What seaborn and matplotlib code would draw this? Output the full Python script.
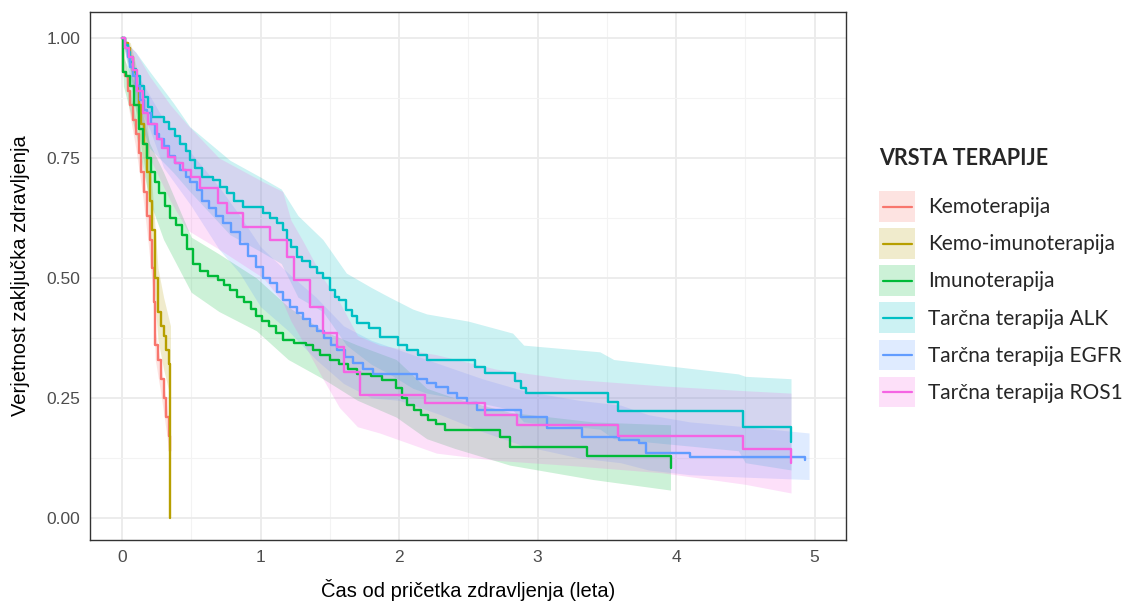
import numpy as np
import pandas as pd
import matplotlib
matplotlib.use("Agg")
import matplotlib.pyplot as plt
import seaborn as sns
from matplotlib.patches import Rectangle
from matplotlib.lines import Line2D
from matplotlib.legend_handler import HandlerBase

# ---------------------------------------------------------------------------
# Kaplan-Meier estimates per therapy group (step curves) and their
# pointwise confidence bands (given on their own time grids)
# ---------------------------------------------------------------------------
therapies = ["Kemoterapija", "Kemo-imunoterapija", "Imunoterapija",
             "Tarčna terapija ALK", "Tarčna terapija EGFR", "Tarčna terapija ROS1"]
colors = ["#F8766D", "#B79F00", "#00BA38", "#00BFC4", "#619CFF", "#F564E3"]

# Kemoterapija
kemo_t = [0, 0.005, 0.02, 0.04, 0.06, 0.08, 0.10, 0.12, 0.14, 0.16, 0.18, 0.20,
          0.22, 0.23, 0.24, 0.26, 0.28, 0.30, 0.32, 0.34, 0.35]
kemo_s = [1.0, 0.93, 0.92, 0.89, 0.86, 0.83, 0.80, 0.76, 0.72, 0.68, 0.63, 0.58,
          0.52, 0.45, 0.36, 0.33, 0.29, 0.25, 0.21, 0.17, 0.14]
kemo_band_t = [0, 0.05, 0.10, 0.15, 0.19, 0.22, 0.24, 0.28, 0.32, 0.35]
kemo_lo = [1.0, 0.85, 0.77, 0.67, 0.57, 0.48, 0.33, 0.26, 0.18, 0.11]
kemo_hi = [1.0, 0.90, 0.83, 0.73, 0.63, 0.56, 0.39, 0.32, 0.24, 0.17]

# Kemo-imunoterapija
kimu_t = [0, 0.02, 0.04, 0.06, 0.08, 0.10, 0.12, 0.14, 0.16, 0.18, 0.20, 0.22,
          0.24, 0.26, 0.28, 0.30, 0.32, 0.34, 0.35]
kimu_s = [1.0, 0.99, 0.98, 0.96, 0.93, 0.90, 0.86, 0.82, 0.78, 0.72, 0.66, 0.60,
          0.50, 0.43, 0.40, 0.38, 0.35, 0.32, 0.0]
kimu_band_t = [0, 0.06, 0.12, 0.17, 0.22, 0.26, 0.30, 0.35]
kimu_lo = [1.0, 0.93, 0.80, 0.72, 0.52, 0.37, 0.31, 0.25]
kimu_hi = [1.0, 0.99, 0.92, 0.87, 0.68, 0.52, 0.46, 0.40]

# Imunoterapija
imu_t = [0, 0.005, 0.03, 0.06, 0.09, 0.12, 0.15, 0.18, 0.21, 0.24, 0.27, 0.31,
         0.35, 0.39, 0.43, 0.47, 0.51, 0.56, 0.62, 0.69, 0.74, 0.78, 0.83, 0.88,
         0.93, 0.97, 1.01, 1.06, 1.11, 1.16, 1.24, 1.33, 1.38, 1.43, 1.50, 1.57,
         1.63, 1.70, 1.80, 1.88, 1.98, 2.02, 2.06, 2.11, 2.16, 2.21, 2.27, 2.33,
         2.73, 2.80, 3.36, 3.96]
imu_s = [1.0, 0.93, 0.92, 0.90, 0.86, 0.81, 0.78, 0.75, 0.72, 0.70, 0.677, 0.65,
         0.625, 0.61, 0.59, 0.56, 0.53, 0.515, 0.505, 0.495, 0.485, 0.475, 0.46,
         0.45, 0.435, 0.42, 0.41, 0.40, 0.385, 0.37, 0.365, 0.36, 0.35, 0.34,
         0.33, 0.32, 0.31, 0.30, 0.295, 0.287, 0.27, 0.25, 0.235, 0.225, 0.215,
         0.205, 0.195, 0.183, 0.169, 0.148, 0.129, 0.105]
imu_band_t = [0, 0.01, 0.1, 0.2, 0.3, 0.5, 0.7, 0.97, 1.2, 1.45, 1.7, 1.98,
              2.2, 2.4, 2.8, 3.4, 3.96]
imu_lo = [1.0, 0.90, 0.80, 0.66, 0.58, 0.47, 0.43, 0.39, 0.33, 0.29, 0.245,
          0.21, 0.165, 0.145, 0.11, 0.08, 0.058]
imu_hi = [1.0, 0.96, 0.90, 0.78, 0.72, 0.585, 0.55, 0.50, 0.44, 0.39, 0.36,
          0.33, 0.27, 0.25, 0.22, 0.20, 0.194]

# Tarčna terapija ALK
alk_t = [0, 0.02, 0.04, 0.06, 0.08, 0.10, 0.13, 0.16, 0.19, 0.22, 0.30, 0.34,
         0.38, 0.42, 0.46, 0.49, 0.53, 0.58, 0.66, 0.71, 0.76, 0.81, 0.87, 1.02,
         1.07, 1.12, 1.16, 1.19, 1.22, 1.26, 1.30, 1.36, 1.41, 1.45, 1.50, 1.54,
         1.57, 1.62, 1.66, 1.70, 1.78, 1.86, 1.99, 2.06, 2.14, 2.20, 2.55, 2.62,
         2.84, 2.88, 2.92, 3.51, 3.58, 4.48, 4.83]
alk_s = [1.0, 0.985, 0.97, 0.95, 0.935, 0.92, 0.90, 0.877, 0.856, 0.835, 0.825,
         0.81, 0.795, 0.78, 0.765, 0.746, 0.73, 0.71, 0.704, 0.69, 0.677, 0.66,
         0.648, 0.635, 0.625, 0.615, 0.60, 0.58, 0.565, 0.544, 0.535, 0.523, 0.51,
         0.50, 0.475, 0.46, 0.454, 0.433, 0.42, 0.406, 0.395, 0.377, 0.36, 0.35,
         0.34, 0.33, 0.315, 0.302, 0.285, 0.27, 0.26, 0.242, 0.223, 0.19, 0.158]
alk_band_t = [0, 0.1, 0.2, 0.37, 0.49, 0.78, 1.0, 1.15, 1.27, 1.45, 1.62, 1.8,
              1.93, 2.1, 2.2, 2.5, 2.82, 2.9, 3.45, 3.55, 4.45, 4.5, 4.83]
alk_lo = [1.0, 0.85, 0.77, 0.72, 0.68, 0.59, 0.555, 0.53, 0.46, 0.43, 0.36,
          0.32, 0.30, 0.27, 0.26, 0.245, 0.225, 0.20, 0.185, 0.165, 0.14, 0.115,
          0.10]
alk_hi = [1.0, 0.97, 0.93, 0.865, 0.815, 0.745, 0.71, 0.685, 0.63, 0.58, 0.51,
          0.48, 0.46, 0.435, 0.425, 0.41, 0.385, 0.36, 0.346, 0.33, 0.30, 0.295,
          0.29]

# Tarčna terapija EGFR
egfr_t = [0, 0.02, 0.04, 0.06, 0.08, 0.10, 0.13, 0.16, 0.18, 0.21, 0.24, 0.27,
          0.30, 0.34, 0.38, 0.42, 0.46, 0.49, 0.54, 0.58, 0.63, 0.68, 0.73, 0.79,
          0.85, 0.91, 0.97, 1.02, 1.07, 1.12, 1.16, 1.21, 1.26, 1.31, 1.36, 1.41,
          1.46, 1.51, 1.55, 1.61, 1.67, 1.74, 1.81, 2.13, 2.20, 2.27, 2.35, 2.42,
          2.49, 2.56, 2.88, 3.07, 3.32, 3.59, 3.73, 3.78, 4.10, 4.93]
egfr_s = [1.0, 0.98, 0.96, 0.94, 0.92, 0.90, 0.87, 0.85, 0.844, 0.82, 0.80, 0.79,
          0.775, 0.755, 0.74, 0.725, 0.71, 0.70, 0.683, 0.66, 0.645, 0.63, 0.615,
          0.595, 0.57, 0.545, 0.523, 0.50, 0.49, 0.47, 0.454, 0.44, 0.427, 0.415,
          0.40, 0.39, 0.375, 0.36, 0.35, 0.335, 0.323, 0.31, 0.30, 0.29, 0.281,
          0.273, 0.26, 0.25, 0.24, 0.225, 0.21, 0.188, 0.169, 0.163, 0.156, 0.135,
          0.127, 0.12]
egfr_band_t = [0, 0.1, 0.2, 0.3, 0.5, 0.7, 0.85, 1.0, 1.2, 1.4, 1.6, 1.8, 2.0,
               2.3, 2.6, 2.9, 3.3, 3.6, 3.8, 4.1, 4.5, 4.96]
egfr_lo = [1.0, 0.87, 0.81, 0.73, 0.65, 0.56, 0.51, 0.44, 0.39, 0.33, 0.28,
           0.25, 0.245, 0.215, 0.18, 0.15, 0.125, 0.115, 0.10, 0.09, 0.085, 0.08]
egfr_hi = [1.0, 0.93, 0.88, 0.83, 0.76, 0.69, 0.63, 0.565, 0.51, 0.46, 0.40,
           0.37, 0.35, 0.32, 0.29, 0.265, 0.245, 0.235, 0.215, 0.20, 0.19, 0.177]

# Tarčna terapija ROS1
ros_t = [0, 0.02, 0.05, 0.08, 0.11, 0.15, 0.19, 0.25, 0.29, 0.33, 0.38, 0.44,
         0.50, 0.56, 0.69, 0.76, 0.87, 1.07, 1.19, 1.24, 1.36, 1.45, 1.55, 1.60,
         1.72, 2.19, 2.62, 2.85, 3.58, 4.48, 4.83]
ros_s = [1.0, 0.98, 0.96, 0.933, 0.89, 0.844, 0.82, 0.79, 0.77, 0.752, 0.74,
         0.725, 0.71, 0.687, 0.656, 0.635, 0.606, 0.58, 0.544, 0.496, 0.44, 0.385,
         0.356, 0.304, 0.256, 0.24, 0.215, 0.194, 0.171, 0.144, 0.115]
ros_band_t = [0, 0.1, 0.2, 0.35, 0.47, 0.7, 1.02, 1.16, 1.22, 1.3, 1.45, 1.57,
              1.7, 1.86, 2.27, 2.7, 3.2, 3.9, 4.5, 4.83]
ros_lo = [1.0, 0.88, 0.75, 0.66, 0.60, 0.56, 0.50, 0.45, 0.41, 0.37, 0.29, 0.23,
          0.19, 0.177, 0.135, 0.12, 0.11, 0.094, 0.07, 0.052]
ros_hi = [1.0, 0.97, 0.92, 0.86, 0.82, 0.75, 0.70, 0.68, 0.62, 0.58, 0.50, 0.45,
          0.38, 0.36, 0.34, 0.31, 0.29, 0.275, 0.265, 0.26]

curves = [(kemo_t, kemo_s), (kimu_t, kimu_s), (imu_t, imu_s),
          (alk_t, alk_s), (egfr_t, egfr_s), (ros_t, ros_s)]
bands = [(kemo_band_t, kemo_lo, kemo_hi), (kimu_band_t, kimu_lo, kimu_hi),
         (imu_band_t, imu_lo, imu_hi), (alk_band_t, alk_lo, alk_hi),
         (egfr_band_t, egfr_lo, egfr_hi), (ros_band_t, ros_lo, ros_hi)]

surv_df = pd.concat(
    [pd.DataFrame({"time": t, "surv": s, "therapy": name})
     for name, (t, s) in zip(therapies, curves)],
    ignore_index=True)


class BoxLineHandler(HandlerBase):
    """Legend key: translucent filled box with the group's line across it."""

    def create_artists(self, legend, orig_handle, xdescent, ydescent,
                       width, height, fontsize, trans):
        color = orig_handle.get_color()
        box = Rectangle((-xdescent, -ydescent), width, height,
                        facecolor=color, alpha=0.2, edgecolor="none",
                        transform=trans)
        yc = -ydescent + height / 2
        line = Line2D([-xdescent + 0.1 * width, -xdescent + 0.9 * width],
                      [yc, yc], color=color, lw=1.6, transform=trans)
        return [box, line]


# ---------------------------------------------------------------------------
# Figure
# ---------------------------------------------------------------------------
sns.set_theme(style="white")
axis_font = ["Liberation Sans Narrow", "Liberation Sans", "DejaVu Sans"]
legend_font = ["Lato", "DejaVu Sans"]
plt.rcParams["font.family"] = axis_font

fig = plt.figure(figsize=(11.31, 6.06), dpi=100)
ax = fig.add_axes([90 / 1131, 1 - 540 / 606, 756 / 1131, 528 / 606])

palette = dict(zip(therapies, colors))
for name, (bt, lo, hi) in zip(therapies, bands):
    ax.fill_between(bt, lo, hi, color=palette[name], alpha=0.2, lw=0, zorder=2)

sns.lineplot(data=surv_df, x="time", y="surv", hue="therapy", palette=palette,
             hue_order=therapies, drawstyle="steps-post", estimator=None,
             sort=False, units="therapy", linewidth=1.7, legend=False, ax=ax,
             zorder=3)

ax.set_xlim(-0.231, 5.227)
ax.set_ylim(-0.046, 1.054)
ax.set_xticks([0, 1, 2, 3, 4, 5])
ax.set_xticklabels(["0", "1", "2", "3", "4", "5"])
ax.set_yticks([0, 0.25, 0.5, 0.75, 1.0])
ax.set_yticklabels(["0.00", "0.25", "0.50", "0.75", "1.00"])
ax.set_xticks([0.5, 1.5, 2.5, 3.5, 4.5], minor=True)
ax.set_yticks([0.125, 0.375, 0.625, 0.875], minor=True)

ax.grid(True, which="major", color="#EBEBEB", linewidth=1.3, zorder=0)
ax.grid(True, which="minor", color="#F3F3F3", linewidth=0.8, zorder=0)
ax.set_axisbelow(True)
for sp in ax.spines.values():
    sp.set_color("#333333")
    sp.set_linewidth(1.0)

ax.tick_params(axis="both", which="major", direction="out", length=4, width=1,
               color="#333333", labelcolor="#4D4D4D", labelsize=12.5, pad=3)
ax.tick_params(axis="both", which="minor", length=0)

ax.set_xlabel("Čas od pričetka zdravljenja (leta)", fontsize=14.5,
              color="black", labelpad=10)
ax.set_ylabel("Verjetnost zaključka zdravljenja", fontsize=14.5,
              color="black", labelpad=12)

# legend
handles = [Line2D([0], [0], color=c) for c in colors]
leg = fig.legend(handles, therapies, title="VRSTA TERAPIJE",
                 loc="upper left", bbox_to_anchor=(879 / 1131, 1 - 148 / 606),
                 frameon=False, handler_map={Line2D: BoxLineHandler()},
                 handlelength=1.75, handleheight=1.9, labelspacing=0.3,
                 handletextpad=0.6, borderaxespad=0, borderpad=0,
                 prop={"family": legend_font, "size": 15},
                 title_fontproperties={"family": legend_font, "size": 15.5,
                                       "weight": "bold"})
leg._legend_box.align = "left"
leg._legend_box.sep = 16

fig.savefig("out.png", dpi=100)
